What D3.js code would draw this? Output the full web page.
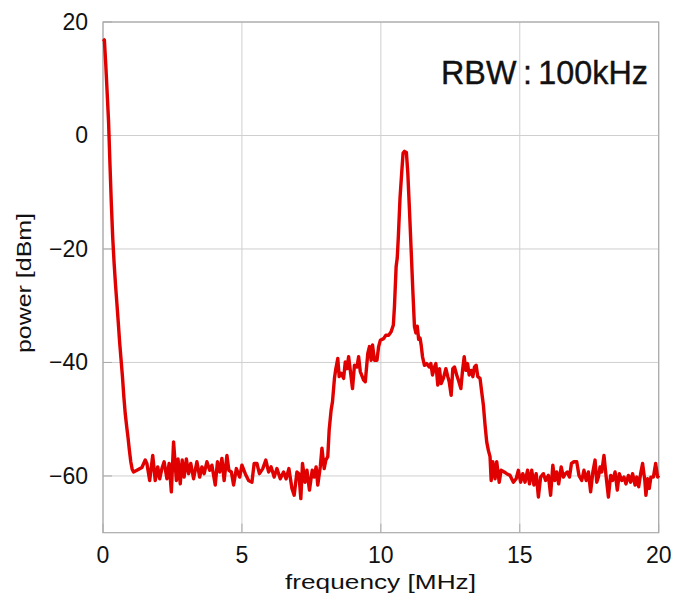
<!DOCTYPE html>
<html><head><meta charset="utf-8">
<script src="https://cdn.jsdelivr.net/npm/d3@7"></script>
<style>body{margin:0;background:#fff}svg{display:block}</style>
</head><body>
<svg id="c" width="678" height="602"></svg>
<script>
const freq = [0,0.05,0.1,0.15,0.2,0.25,0.3,0.35,0.4,0.45,0.5,0.55,0.6,0.65,0.7,0.75,0.8,0.85,0.9,0.95,1.0,1.05,
1.1,1.22,1.40,1.52,1.58,1.68,1.79,1.88,1.97,2.04,2.12,2.20,2.30,2.38,2.46,2.54,2.64,2.70,2.78,2.85,2.92,3.00,3.08,3.16,3.26,3.38,3.48,3.56,3.64,3.74,3.84,3.92,4.04,4.12,4.20,4.28,4.36,4.46,4.53,4.62,4.70,4.80,4.92,5.00,5.12,5.24,5.36,5.44,5.54,5.63,5.75,5.86,5.96,6.05,6.16,6.26,6.38,6.50,6.59,6.69,6.80,6.88,6.98,7.05,7.12,7.18,7.27,7.34,7.43,7.53,7.60,7.67,7.73,7.82,7.88,7.96,8.02,8.09,
8.14,8.21,8.26,8.33,8.38,8.45,8.50,8.57,8.66,8.72,8.78,8.84,8.90,8.98,9.05,9.14,9.20,9.26,9.38,9.44,9.53,9.59,9.65,9.70,9.77,9.86,9.92,9.98,10.1,10.18,10.28,10.37,10.45,
10.49,10.55,10.59,10.63,10.69,10.75,10.80,10.85,10.92,10.97,11.03,11.09,11.15,11.21,11.26,11.31,11.36,11.41,11.45,11.50,11.57,11.65,11.74,11.80,11.86,11.93,11.98,12.05,12.11,12.17,12.25,12.34,12.41,12.46,12.53,12.59,12.65,12.73,12.79,12.88,12.94,13.00,13.06,13.12,13.18,13.25,13.31,13.37,13.43,13.49,13.57,13.63,13.69,13.75,13.81,13.87,13.93,13.97,
14.03,14.11,14.17,14.26,14.33,14.44,14.53,14.65,14.77,14.87,14.95,15.03,15.11,15.19,15.28,15.35,15.43,15.51,15.59,15.67,15.75,15.85,15.93,16.03,16.11,16.19,16.26,16.33,16.40,16.49,16.57,16.64,16.71,16.79,16.86,16.95,17.05,17.13,17.23,17.31,17.39,17.47,17.55,17.63,17.71,17.77,17.83,17.89,17.95,18.03,18.11,18.19,18.27,18.34,18.43,18.51,18.58,18.67,18.75,18.82,18.91,18.99,19.06,19.15,19.21,19.28,19.35,19.42,19.50,19.54,19.60,19.66,19.72,19.81,19.89,19.96,20.0];
const power = [17,16.8,12.5,7.5,2.5,-5,-12,-18,-22.5,-26.3,-29.6,-33,-36.5,-39.5,-42.5,-46,-49,-51.2,-53.2,-55.5,-57.5,-58.8,
-59.3,-59,-58.5,-57.2,-57.8,-60.8,-56.4,-60.8,-58.4,-60.5,-58.7,-57.5,-60.5,-57.8,-62.8,-54,-60.8,-57,-61.4,-57.2,-60.2,-57,-59.6,-57.8,-60.5,-57.5,-60.2,-58.4,-59.6,-57.5,-59,-58.1,-61.6,-57.5,-59.3,-56.9,-60.8,-56.4,-59,-59.3,-61.6,-58.7,-60.2,-58.1,-59.6,-60.8,-61.1,-57.8,-57.8,-59.6,-58.7,-57.2,-59.3,-58.4,-60.2,-58.7,-60.5,-59.3,-60.5,-58.7,-62.2,-63.4,-59.3,-59.6,-64,-57.8,-61.1,-59,-62.5,-59,-60.2,-58.4,-61.6,-58.4,-55.1,-58.7,-57.2,-56.6,
-51.9,-48.4,-46.9,-42.8,-41.1,-39.3,-42.5,-41.9,-42.8,-39.9,-41.1,-39,-41.4,-44.6,-40.5,-40.8,-39,-41.6,-43.1,-43.4,-38.4,-37.2,-39.6,-36.9,-39.6,-39.6,-37.2,-36.1,-35.8,-35.2,-35.2,-34.6,-33.4,
-30.1,-23.1,-21.6,-17.8,-11,-6.6,-3.1,-2.8,-3.0,-6.6,-13.1,-20.1,-27.2,-33.7,-34.8,-33.6,-35.9,-35.7,-36.9,-39,-40.5,-40.2,-40.8,-40.2,-42.2,-40.8,-40.2,-44,-41.1,-43.7,-42.8,-41.1,-42.5,-43.4,-45.8,-41.1,-40.8,-42.2,-43.1,-44.6,-41.4,-39,-41.4,-40.2,-42.2,-41.4,-42.5,-40.8,-40.5,-42.5,-42.8,-45.2,-47.5,-51,-54,-55.5,-56.6,-60.8,
-57.5,-60.5,-57.5,-61.1,-59,-59.3,-59.6,-59.9,-61.1,-60.5,-59,-61.1,-59.6,-61.1,-59,-61.4,-59,-61.6,-59.6,-63.7,-60.2,-59.6,-60.8,-59.9,-63.4,-58.1,-60.8,-59.3,-61.4,-58.4,-60.2,-59.6,-59.3,-60.2,-57.8,-57.5,-57.5,-59.9,-60.8,-59,-60.8,-59.3,-62.8,-59.3,-57.2,-61.1,-60.2,-58.4,-59.3,-56.4,-60.2,-63.7,-59.9,-60.8,-59.3,-62.5,-59.6,-60.8,-60.2,-61.4,-59.9,-61.1,-59.6,-61.6,-60.2,-61.9,-59.6,-57.8,-60.8,-63.4,-60.5,-62.2,-60.2,-60.2,-57.8,-60.2,-59.9];
const xTicks = [0,5,10,15,20];
const yTicks = [20,0,-20,-40,-60];
const xLabel = "frequency [MHz]";
const yLabel = "power [dBm]";
const note = "RBW\u2009:\u2009100kHz";

const L=103, R=658.7, T=22, B=532.7;
const svg=d3.select("#c");
const x=d3.scaleLinear().domain([0,20]).range([L,R]);
const y=d3.scaleLinear().domain([-70,20]).range([B,T]);
const font="Arial, 'Liberation Sans', sans-serif";

// grid
svg.append("g").selectAll("line").data(xTicks).join("line")
 .attr("x1",d=>x(d)).attr("x2",d=>x(d)).attr("y1",T).attr("y2",B)
 .attr("stroke","#cfcfcf").attr("stroke-width",1);
svg.append("g").selectAll("line").data(yTicks).join("line")
 .attr("x1",L).attr("x2",R).attr("y1",d=>y(d)).attr("y2",d=>y(d))
 .attr("stroke","#cfcfcf").attr("stroke-width",1);

// inward ticks
svg.append("g").selectAll("line").data(yTicks).join("line")
 .attr("x1",L).attr("x2",L+9).attr("y1",d=>y(d)).attr("y2",d=>y(d))
 .attr("stroke","#aaa");
svg.append("g").selectAll("line").data(xTicks).join("line")
 .attr("x1",d=>x(d)).attr("x2",d=>x(d)).attr("y1",B).attr("y2",B-9)
 .attr("stroke","#aaa");

// frame
svg.append("rect").attr("x",L).attr("y",T).attr("width",R-L).attr("height",B-T)
 .attr("fill","none").attr("stroke","#aaa").attr("stroke-width",1.2);

// tick labels
svg.append("g").selectAll("text").data(xTicks).join("text")
 .attr("x",d=>x(d)).attr("y",563).attr("text-anchor","middle")
 .attr("font-family",font).attr("font-size",23).attr("fill","#111").text(d=>d);
svg.append("g").selectAll("text").data(yTicks).join("text")
 .attr("x",88).attr("y",d=>y(d)+8).attr("text-anchor","end")
 .attr("font-family",font).attr("font-size",23).attr("fill","#111")
 .text(d=>d<0?"\u2212"+Math.abs(d):d);

// axis titles
svg.append("text").attr("x",380.5).attr("y",589).attr("text-anchor","middle")
 .attr("font-family",font).attr("font-size",21).attr("fill","#111")
 .attr("textLength",191).attr("lengthAdjust","spacingAndGlyphs").text(xLabel);
svg.append("text").attr("transform","translate(31,283) rotate(-90)").attr("text-anchor","middle")
 .attr("font-family",font).attr("font-size",21).attr("fill","#111")
 .attr("textLength",140).attr("lengthAdjust","spacingAndGlyphs").text(yLabel);

// note
svg.append("text").attr("x",441).attr("y",84).attr("font-family",font)
 .attr("font-size",33).attr("fill","#111").attr("stroke","#111").attr("stroke-width",0.4)
 .attr("textLength",207).attr("lengthAdjust","spacingAndGlyphs").text(note);

// line
const data=freq.map((f,i)=>[f,power[i]]);
svg.append("path").datum(data)
 .attr("d",d3.line().x(d=>x(d[0])).y(d=>y(d[1])))
 .attr("fill","none").attr("stroke","#e00000").attr("stroke-width",3.4)
 .attr("stroke-linejoin","round");
</script>
</body></html>
